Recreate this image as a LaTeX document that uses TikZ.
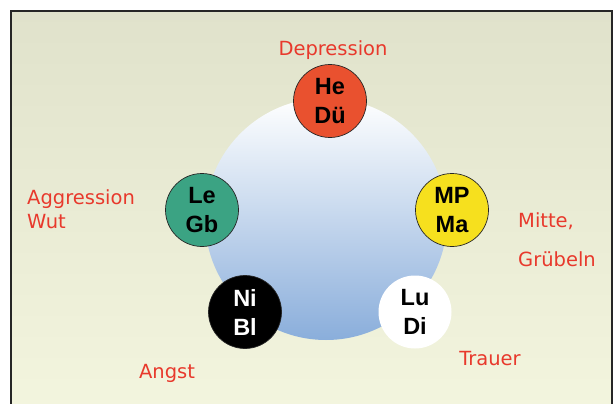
\documentclass[tikz,border=0pt]{standalone}
\usepackage{fontspec}
\setmainfont{DejaVu Sans}
\newfontfamily\circfont{Liberation Sans}
\begin{document}
\begin{tikzpicture}[x=1pt,y=-1pt,
  lbl/.style={text=lblred,font=\fontsize{19.5}{22}\selectfont,inner sep=0pt},
  elem/.style={circle,minimum size=73pt,inner sep=0pt,draw=black!85,line width=0.7pt,
     align=center,font=\circfont\bfseries\fontsize{23.5}{29}\selectfont}]
\definecolor{lblred}{HTML}{E8392C}
\definecolor{bgtop}{HTML}{E0E2CB}
\definecolor{bgbot}{HTML}{F3F5DE}
\definecolor{blubot}{HTML}{8AAEDB}
\definecolor{redc}{HTML}{E9512F}
\definecolor{greenc}{HTML}{3BA383}
\definecolor{yellc}{HTML}{F6E01E}
\useasboundingbox (0,0) rectangle (616,404);
\fill[white] (0,0) rectangle (616,404);
\shade[top color=bgtop,bottom color=bgbot] (11,11) rectangle (612,410);
\draw[line width=2pt,draw=black!85] (11,410) -- (11,11) -- (612,11) -- (612,410);
\shade[top color=white,bottom color=blubot] (326,219) circle (121);
\node[elem,fill=redc] (he) at (330,101) {He\\Dü};
\node[elem,fill=greenc] (le) at (202,210) {Le\\Gb};
\node[elem,fill=yellc] (mp) at (452,210) {MP\\Ma};
\node[elem,fill=black,text=white] (ni) at (245,312) {Ni\\Bl};
\node[elem,fill=white,draw=none] (lu) at (415,312) {Lu\\Di};
\node[lbl] (dep) at (333,50) {Depression};
\node[lbl,anchor=west,align=left,font=\fontsize{19.5}{24}\selectfont] (agg) at (27,209) {Aggression\\Wut};
\node[lbl,anchor=west,align=left,font=\fontsize{19.5}{39}\selectfont] (mit) at (518,240) {Mitte,\\Grübeln};
\node[lbl] (tra) at (490,359) {Trauer};
\node[lbl] (ang) at (167,373) {Angst};
\end{tikzpicture}
\end{document}
